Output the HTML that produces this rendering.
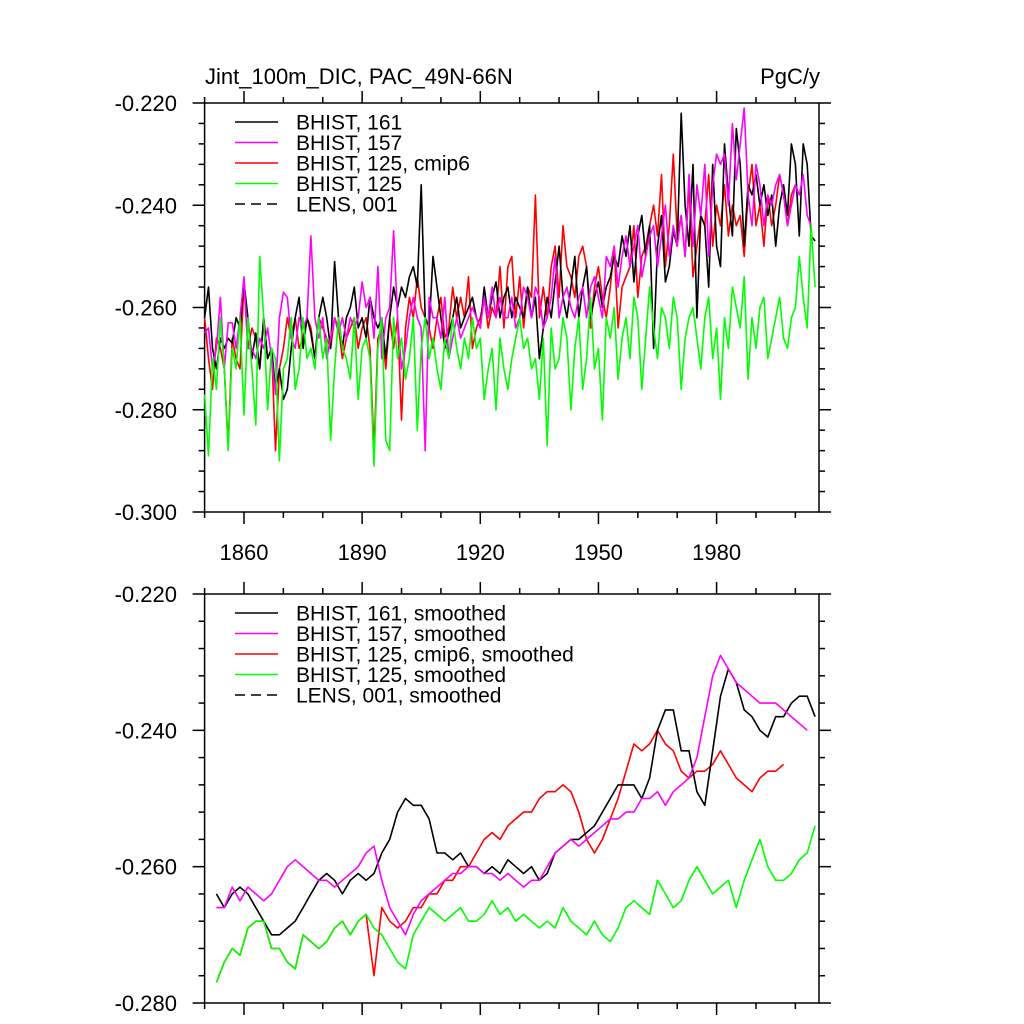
<!DOCTYPE html>
<html><head><meta charset="utf-8"><style>
html,body{margin:0;padding:0;background:#fff;}
svg{display:block;font-family:"Liberation Sans",sans-serif;}
</style></head><body>
<svg id="chart" width="1024" height="1024" viewBox="0 0 1024 1024" xmlns="http://www.w3.org/2000/svg">
<rect width="1024" height="1024" fill="#fff"/>
<text x="205" y="84" font-size="22">Jint_100m_DIC, PAC_49N-66N</text>
<text x="820" y="84" font-size="22" text-anchor="end">PgC/y</text>
<g id="top"></g>
<g id="bot"></g>
</svg>
<script>
const NS="http://www.w3.org/2000/svg";
const xTickYears=[1860,1890,1920,1950,1980];
const yTicksTop=[-0.22,-0.24,-0.26,-0.28,-0.30];
const yTicksBot=[-0.22,-0.24,-0.26,-0.28];
const rawStart=1850, smoothStart=1853, smoothStep=2;
const rawBlack=[-.262,-.256,-.268,-.272,-.266,-.268,-.266,-.267,-.262,-.264,-.255,-.262,-.270,-.265,-.272,-.262,-.270,-.268,-.276,-.272,-.278,-.276,-.268,-.262,-.258,-.268,-.262,-.265,-.270,-.262,-.258,-.262,-.268,-.251,-.262,-.268,-.262,-.260,-.256,-.264,-.262,-.266,-.258,-.262,-.264,-.262,-.270,-.262,-.256,-.260,-.256,-.258,-.254,-.252,-.256,-.236,-.262,-.264,-.250,-.256,-.262,-.268,-.265,-.262,-.258,-.264,-.262,-.260,-.258,-.262,-.264,-.256,-.262,-.258,-.255,-.262,-.258,-.256,-.262,-.258,-.260,-.262,-.256,-.262,-.258,-.270,-.264,-.258,-.262,-.255,-.248,-.258,-.262,-.256,-.250,-.262,-.256,-.252,-.262,-.258,-.255,-.260,-.256,-.254,-.250,-.252,-.246,-.250,-.244,-.255,-.246,-.242,-.250,-.244,-.268,-.248,-.242,-.255,-.252,-.245,-.248,-.222,-.240,-.248,-.232,-.262,-.242,-.244,-.256,-.232,-.248,-.252,-.228,-.238,-.246,-.225,-.232,-.248,-.236,-.238,-.234,-.240,-.236,-.242,-.238,-.248,-.240,-.236,-.242,-.228,-.232,-.246,-.228,-.232,-.246,-.247];
const rawMagenta=[-.265,-.264,-.272,-.268,-.258,-.272,-.263,-.263,-.268,-.262,-.254,-.268,-.268,-.270,-.266,-.268,-.264,-.270,-.277,-.262,-.257,-.258,-.266,-.268,-.262,-.264,-.262,-.246,-.262,-.266,-.262,-.270,-.266,-.262,-.265,-.262,-.266,-.262,-.264,-.262,-.255,-.260,-.258,-.266,-.252,-.270,-.262,-.260,-.245,-.262,-.272,-.268,-.262,-.258,-.262,-.264,-.288,-.258,-.262,-.262,-.266,-.258,-.270,-.266,-.262,-.266,-.264,-.262,-.260,-.262,-.264,-.258,-.262,-.256,-.262,-.258,-.262,-.262,-.258,-.264,-.262,-.256,-.258,-.262,-.256,-.258,-.264,-.262,-.258,-.250,-.262,-.258,-.256,-.260,-.262,-.258,-.256,-.262,-.256,-.254,-.258,-.262,-.250,-.252,-.248,-.256,-.250,-.246,-.252,-.248,-.244,-.254,-.250,-.246,-.244,-.252,-.246,-.240,-.250,-.244,-.248,-.242,-.250,-.234,-.248,-.236,-.242,-.232,-.250,-.236,-.230,-.232,-.230,-.240,-.224,-.235,-.228,-.221,-.238,-.244,-.232,-.236,-.244,-.238,-.240,-.236,-.234,-.238,-.244,-.240,-.236,-.238,-.234,-.242,-.244];
const rawRed=[-.262,-.270,-.276,-.266,-.268,-.272,-.287,-.266,-.270,-.272,-.255,-.268,-.264,-.266,-.272,-.262,-.270,-.268,-.288,-.272,-.268,-.262,-.266,-.262,-.268,-.266,-.262,-.264,-.270,-.262,-.264,-.266,-.268,-.262,-.264,-.270,-.266,-.264,-.262,-.268,-.264,-.262,-.268,-.288,-.266,-.264,-.272,-.262,-.268,-.262,-.282,-.264,-.258,-.262,-.254,-.260,-.262,-.264,-.268,-.262,-.258,-.266,-.264,-.256,-.262,-.258,-.262,-.254,-.268,-.264,-.262,-.258,-.264,-.260,-.262,-.252,-.264,-.252,-.250,-.262,-.254,-.264,-.256,-.258,-.238,-.262,-.256,-.262,-.252,-.248,-.258,-.244,-.252,-.254,-.258,-.250,-.248,-.252,-.264,-.256,-.252,-.258,-.262,-.256,-.248,-.264,-.256,-.254,-.252,-.244,-.258,-.250,-.248,-.244,-.240,-.246,-.234,-.252,-.244,-.230,-.246,-.242,-.250,-.236,-.254,-.248,-.242,-.244,-.234,-.248,-.240,-.244,-.236,-.246,-.240,-.244,-.242,-.250,-.238,-.232,-.244,-.240,-.248,-.238,-.244,-.240,-.234,-.238,-.244,-.238,-.236];
const rawGreen=[-.277,-.289,-.270,-.276,-.262,-.272,-.288,-.268,-.272,-.262,-.281,-.262,-.272,-.283,-.250,-.262,-.280,-.268,-.270,-.290,-.272,-.270,-.262,-.276,-.272,-.262,-.270,-.268,-.272,-.262,-.270,-.266,-.286,-.272,-.262,-.268,-.270,-.274,-.262,-.278,-.268,-.266,-.270,-.291,-.268,-.262,-.286,-.288,-.262,-.270,-.266,-.274,-.270,-.262,-.284,-.268,-.262,-.270,-.266,-.272,-.276,-.266,-.270,-.262,-.268,-.272,-.266,-.270,-.262,-.268,-.266,-.278,-.272,-.268,-.280,-.266,-.272,-.276,-.270,-.266,-.262,-.268,-.266,-.272,-.270,-.278,-.266,-.287,-.264,-.272,-.270,-.262,-.266,-.280,-.268,-.262,-.276,-.270,-.258,-.272,-.268,-.282,-.262,-.266,-.260,-.274,-.266,-.262,-.270,-.258,-.262,-.276,-.266,-.256,-.264,-.270,-.260,-.262,-.268,-.258,-.262,-.276,-.266,-.262,-.260,-.266,-.272,-.262,-.258,-.270,-.264,-.278,-.262,-.268,-.256,-.260,-.264,-.254,-.274,-.262,-.268,-.260,-.258,-.270,-.266,-.262,-.258,-.266,-.268,-.262,-.260,-.250,-.258,-.264,-.244,-.256];
const smBlack=[-.264,-.266,-.264,-.263,-.264,-.266,-.268,-.270,-.270,-.269,-.268,-.266,-.264,-.262,-.261,-.262,-.264,-.262,-.261,-.262,-.261,-.258,-.256,-.252,-.250,-.251,-.251,-.253,-.258,-.258,-.259,-.258,-.260,-.260,-.261,-.260,-.261,-.259,-.260,-.261,-.260,-.262,-.261,-.258,-.257,-.256,-.256,-.255,-.254,-.252,-.250,-.248,-.248,-.248,-.250,-.247,-.240,-.237,-.237,-.243,-.243,-.249,-.251,-.243,-.235,-.231,-.233,-.237,-.238,-.240,-.241,-.238,-.238,-.236,-.235,-.235,-.238];
const smMagenta=[-.266,-.266,-.263,-.265,-.263,-.264,-.265,-.264,-.262,-.260,-.259,-.260,-.261,-.262,-.262,-.263,-.262,-.261,-.260,-.258,-.257,-.262,-.266,-.268,-.270,-.267,-.265,-.264,-.263,-.262,-.261,-.261,-.260,-.260,-.261,-.261,-.262,-.261,-.262,-.263,-.262,-.262,-.260,-.258,-.257,-.256,-.257,-.256,-.255,-.254,-.253,-.253,-.252,-.252,-.250,-.250,-.249,-.251,-.249,-.248,-.247,-.244,-.238,-.232,-.229,-.231,-.233,-.234,-.235,-.236,-.236,-.236,-.237,-.238,-.239,-.240];
const smGreen=[-.277,-.274,-.272,-.273,-.269,-.268,-.268,-.272,-.272,-.274,-.275,-.270,-.271,-.272,-.271,-.269,-.268,-.270,-.268,-.267,-.269,-.270,-.272,-.274,-.275,-.270,-.268,-.266,-.267,-.268,-.267,-.266,-.268,-.268,-.267,-.265,-.267,-.266,-.268,-.267,-.268,-.269,-.268,-.269,-.266,-.268,-.269,-.270,-.268,-.270,-.271,-.269,-.266,-.265,-.266,-.267,-.262,-.264,-.266,-.265,-.262,-.260,-.262,-.264,-.263,-.262,-.266,-.262,-.259,-.256,-.260,-.262,-.262,-.261,-.259,-.258,-.254];
const smRed=[-.277,-.274,-.272,-.273,-.269,-.268,-.268,-.272,-.272,-.274,-.275,-.270,-.271,-.272,-.271,-.269,-.268,-.270,-.268,-.267,-.276,-.266,-.268,-.269,-.268,-.266,-.266,-.264,-.264,-.262,-.262,-.260,-.260,-.258,-.256,-.255,-.256,-.254,-.253,-.252,-.252,-.250,-.249,-.249,-.248,-.249,-.252,-.256,-.258,-.256,-.253,-.250,-.246,-.242,-.243,-.242,-.240,-.242,-.243,-.246,-.247,-.246,-.246,-.245,-.243,-.245,-.247,-.248,-.249,-.247,-.246,-.246,-.245];
const legendTop=["BHIST, 161","BHIST, 157","BHIST, 125, cmip6","BHIST, 125","LENS, 001"];
const legendBot=["BHIST, 161, smoothed","BHIST, 157, smoothed","BHIST, 125, cmip6, smoothed","BHIST, 125, smoothed","LENS, 001, smoothed"];
const colors=["#000","#ff00ff","#ff0000","#00ff00","#000"];

const X0=204.6, XR=819, Y0=1850, Y1=2006;
const xs=y=>X0+(y-Y0)*(XR-X0)/(Y1-Y0);
function mk(tag,attrs,parent){const e=document.createElementNS(NS,tag);for(const k in attrs)e.setAttribute(k,attrs[k]);parent.appendChild(e);return e;}

function panel(g,top,bot,ymax,ymin,yticks,showX,series,starts,steps,legend,ly,names,prefix){
  const ys=v=>top+(ymax-v)*(bot-top)/(ymax-ymin);
  const ax={stroke:"#000","stroke-width":1.5,fill:"none"};
  const frame=mk("rect",{x:X0,y:top,width:XR-X0,height:bot-top,stroke:"#000","stroke-width":1.5,fill:"none"},g);
  
  
  for(let v=ymax;v>=ymin-1e-9;v-=0.004){
    const yy=ys(v);
    const major=yticks.some(t=>Math.abs(t-v)<1e-6);
    const L=major?12:6;
    mk("line",{x1:X0,x2:X0-L,y1:yy,y2:yy,...ax},g);
    mk("line",{x1:XR,x2:XR+L,y1:yy,y2:yy,...ax},g);
  }
  yticks.forEach(t=>{
    const tx=mk("text",{x:177,y:ys(t)+8,"font-size":22,"text-anchor":"end"},g);
    tx.textContent=t.toFixed(3);
    
    
  });
  for(let yr=1850;yr<=2000;yr+=10){
    const xx=xs(yr);
    const major=xTickYears.includes(yr);
    const L=major?12:6;
    mk("line",{x1:xx,x2:xx,y1:top,y2:top-L,...ax},g);
    mk("line",{x1:xx,x2:xx,y1:bot,y2:bot+L,...ax},g);
  }
  if(showX){xTickYears.forEach(yr=>{
    const tx=mk("text",{x:xs(yr),y:bot+48,"font-size":22,"text-anchor":"middle"},g);
    tx.textContent=yr;
    
    
  });}
  series.forEach((arr,i)=>{
    const pts=arr.map((v,j)=>xs(starts+j*steps).toFixed(1)+","+ys(v).toFixed(1)).join(" ");
    const pl=mk("polyline",{points:pts,fill:"none",stroke:colors[names[i]],"stroke-width":1.6,"stroke-linejoin":"round"},g);
    
    
  });
  legend.forEach((t,i)=>{
    const yy=ly+i*20.5;
    const ln=mk("line",{x1:235,x2:278,y1:yy,y2:yy,stroke:colors[i],"stroke-width":1.6},g);
    if(i===4)ln.setAttribute("stroke-dasharray","10,6");
    
    
    const tx=mk("text",{x:296,y:yy+7.5,"font-size":21},g);
    tx.textContent=t;
    
    
  });
}
panel(document.getElementById("top"),103,512,-0.22,-0.30,yTicksTop,true,
  [rawRed,rawBlack,rawMagenta,rawGreen],rawStart,1,legendTop,122,[2,0,1,3],"top");
panel(document.getElementById("bot"),594,1003,-0.22,-0.28,yTicksBot,false,
  [smRed,smBlack,smMagenta,smGreen],smoothStart,smoothStep,legendBot,613,[2,0,1,3],"bottom");
</script>
</body></html>
